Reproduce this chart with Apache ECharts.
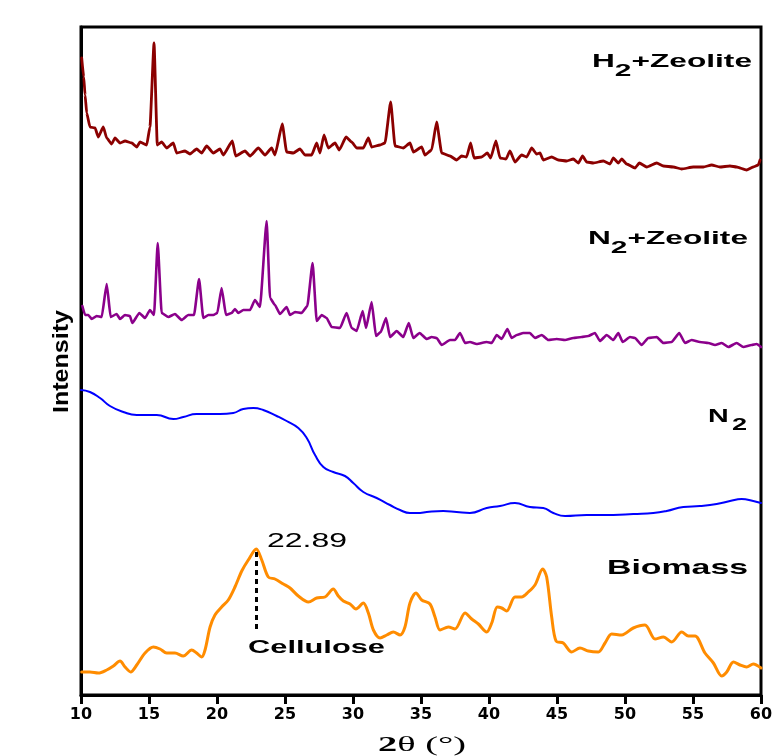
<!DOCTYPE html>
<html>
<head>
<meta charset="utf-8">
<script src="https://cdn.jsdelivr.net/npm/echarts@6/dist/echarts.min.js"></script>
<style>
html,body{margin:0;padding:0;background:#fff;}
#chart{width:777px;height:756px;}
</style>
</head>
<body>
<div id="chart"></div>
<script>
// ---- data (2θ in degrees, intensity in arbitrary units, stacked offsets as in the figure) ----
const xRange = [10, 60];
const xStep = 5;
const yRange = [0, 668];

const h2Zeolite = [
[10.05,637],[10.2,618],[10.3,600],[10.42,582],[10.66,568],[11.03,567],[11.27,558],[11.64,568],[11.89,557],
[12.25,551],[12.5,557],[12.87,552],[13.24,554],[13.73,552],[14.1,548],[14.34,553],[14.83,550],
[15.07,568],[15.37,652],[15.61,550],[15.93,553],[16.3,547],[16.79,552],[17.03,542],[17.65,544],
[18.01,541],[18.5,546],[18.87,542],[19.24,549],[19.73,542],[20.22,546],[20.46,540],[21.13,554],
[21.37,539],[22.06,544],[22.43,539],[23.04,547],[23.53,540],[24.02,547],[24.26,540],[24.8,571],
[25.12,543],[25.61,542],[26.1,546],[26.47,540],[26.96,540],[27.33,552],[27.57,542],[27.87,560],
[28.18,547],[28.68,552],[28.99,545],[29.49,558],[29.9,553],[30.27,547],[30.76,547],[31.13,557],
[31.37,548],[31.99,550],[32.35,552],[32.77,593],[33.09,549],[33.7,547],[34.19,552],[34.44,543],
[35.05,548],[35.29,540],[35.78,545],[36.15,573],[36.52,542],[37.13,539],[37.62,535],[37.99,539],
[38.35,538],[38.65,552],[38.9,537],[39.46,538],[39.88,542],[40.12,537],[40.51,554],[40.81,537],
[41.25,536],[41.54,544],[41.91,533],[42.4,540],[42.77,538],[43.14,547],[43.5,541],[43.75,542],
[43.99,535],[44.61,538],[45.1,535],[45.71,534],[46.2,536],[46.57,532],[46.88,539],[47.18,533],
[47.67,532],[48.41,534],[48.9,531],[49.14,537],[49.51,532],[49.76,536],[50.12,531],[50.74,527],
[51.05,532],[51.6,528],[52.33,532],[52.82,529],[53.55,528],[54.17,526],[55.02,528],[55.76,528],
[56.37,530],[56.98,528],[57.72,529],[58.21,528],[58.94,525],[59.43,528],[59.8,530],[59.93,535]
];

const n2Zeolite = [
[10.1,389],[10.3,380],[10.54,380],[10.79,376],[11.15,379],[11.52,378],[11.89,411],[12.18,378],
[12.62,381],[12.87,376],[13.24,380],[13.6,379],[13.77,372],[14.29,382],[14.71,377],[15.07,385],
[15.37,380],[15.64,452],[15.93,382],[16.42,378],[16.91,381],[17.4,375],[17.89,380],[18.31,380],
[18.68,416],[18.99,377],[19.36,380],[19.73,380],[20.02,382],[20.34,407],[20.66,380],[21.08,382],
[21.32,386],[21.57,382],[21.93,385],[22.43,385],[22.79,395],[23.16,388],[23.65,474],[23.9,397],
[24.26,390],[24.63,381],[25.12,388],[25.37,380],[25.74,383],[26.22,382],[26.64,389],[27.03,432],
[27.33,374],[27.7,380],[28.06,377],[28.43,368],[29.04,367],[29.53,382],[29.9,367],[30.27,364],
[30.71,384],[30.96,367],[31.37,393],[31.69,359],[32.04,363],[32.43,377],[32.72,358],[33.21,364],
[33.7,358],[34.1,372],[34.43,357],[34.9,362],[35.42,356],[35.79,358],[36.15,357],[36.52,350],
[37.13,355],[37.5,355],[37.87,362],[38.24,352],[38.6,353],[39.09,351],[39.83,353],[40.2,352],
[40.56,360],[40.93,356],[41.35,366],[41.67,357],[42.04,360],[42.52,362],[43.01,362],[43.38,357],
[43.88,360],[44.36,355],[44.98,356],[45.59,355],[46.2,357],[46.81,358],[47.3,359],[47.79,362],
[48.16,354],[48.65,360],[49.14,355],[49.51,362],[49.83,353],[50.37,358],[50.74,357],[51.22,350],
[51.71,357],[52.33,358],[52.82,352],[53.43,353],[53.99,362],[54.41,352],[54.9,355],[55.51,353],
[56.13,352],[56.62,350],[57.11,352],[57.6,348],[58.21,352],[58.7,348],[59.31,350],[59.68,351],[60,348]
];

const n2 = [
[10,305],[10.66,303],[11.4,297],[12.13,289],[13.11,283],[14.1,280],[15.57,280],[16.79,276],
[17.52,278],[18.5,281],[20.22,281],[21.2,282],[21.93,286],[22.67,287],[23.4,285],[24.39,279],
[25.12,274],[25.98,267],[26.6,257],[27.21,240],[27.82,228],[28.55,223],[29.41,219],[30.02,212],
[30.76,203],[31.74,197],[32.72,190],[33.46,185],[34.19,182],[34.93,182],[35.42,183],[36.64,184],
[37.62,183],[38.6,182],[39.83,187],[40.81,189],[41.91,192],[43.01,188],[43.99,187],[44.73,182],
[45.59,179],[47.18,180],[49.14,180],[50.61,181],[52.08,182],[53.06,184],[54.29,188],[55.51,189],
[56.74,191],[57.72,194],[58.58,196],[59.43,194],[60,192]
];

const biomass = [
[10.05,23],[10.66,23],[11.27,22],[11.89,25],[12.38,29],[12.87,34],[13.24,28],[13.65,23],
[14.1,30],[14.71,42],[15.32,48],[15.81,46],[16.3,42],[16.91,42],[17.52,39],[18.14,45],
[18.5,42],[18.87,38],[19.12,45],[19.49,68],[19.85,80],[20.34,88],[20.83,95],[21.32,108],
[21.82,124],[22.3,135],[22.89,146],[23.29,135],[23.77,118],[24.26,116],[24.88,111],[25.37,107],
[25.98,99],[26.72,93],[27.33,97],[27.94,98],[28.55,106],[28.92,99],[29.29,94],[29.78,91],
[30.22,86],[30.76,92],[31.13,82],[31.5,65],[31.99,57],[32.48,60],[32.96,63],[33.46,60],
[33.82,68],[34.19,92],[34.63,102],[35.05,95],[35.66,91],[36.03,78],[36.4,65],[37.01,68],
[37.5,66],[38.24,82],[38.73,76],[39.22,71],[39.83,63],[40.2,72],[40.61,88],[40.93,87],
[41.3,84],[41.91,98],[42.4,98],[42.89,103],[43.38,110],[43.95,126],[44.24,118],[44.61,78],
[44.93,54],[45.46,52],[46.08,43],[46.69,47],[47.3,44],[48.04,43],[48.53,52],[49.02,61],
[49.76,60],[50.61,67],[51.47,70],[52.21,56],[52.82,58],[53.43,53],[54.17,63],[54.66,59],
[55.15,59],[55.88,42],[56.5,32],[57.11,19],[57.48,23],[57.97,33],[58.46,30],[58.94,28],
[59.43,31],[60,27]
];

const seriesNames = ['H2+Zeolite', 'N2+Zeolite', 'N2', 'Biomass'];
const cellulosePeak = [22.89, 146];
const dottedEnd = 65;
const peakText = '22.89';
const cellText = 'Cellulose';
const yTitle = 'Intensity';

// ---- chart ----
const chart = echarts.init(document.getElementById('chart'), null, {renderer: 'canvas'});

const lineSeries = (name, data, color, width, smooth, mono) => {
  const s = {
    name, type: 'line', data, showSymbol: false, symbol: 'none',
    smooth,
    lineStyle: {color, width, join: 'round', cap: 'round'}, itemStyle: {color},
    silent: true, animation: false, z: 3
  };
  if (mono) s.smoothMonotone = 'x';
  return s;
};

const sBio = lineSeries(seriesNames[3], biomass, '#ff8c00', 3, 0.3, false);
sBio.markLine = {
  silent: true, symbol: ['none', 'none'], animation: false,
  lineStyle: {color: '#000', width: 3, type: [5, 4]},
  label: {show: false},
  data: [[{coord: [cellulosePeak[0], cellulosePeak[1] - 3]}, {coord: [cellulosePeak[0], dottedEnd]}]]
};

chart.setOption({
  backgroundColor: '#fff',
  animation: false,
  grid: {left: 81, right: 16, top: 27, bottom: 61, show: true, borderColor: '#000', borderWidth: 3, backgroundColor: 'transparent'},
  xAxis: {
    type: 'value', min: xRange[0], max: xRange[1], interval: xStep,
    axisLine: {show: true, lineStyle: {color: '#000', width: 3}},
    axisTick: {show: true, length: 9, lineStyle: {color: '#000', width: 3}},
    axisLabel: {color: '#000', fontFamily: 'DejaVu Sans', fontWeight: 'bold', fontSize: 16, margin: 12},
    splitLine: {show: false}
  },
  yAxis: {
    type: 'value', min: yRange[0], max: yRange[1],
    axisLine: {show: true, lineStyle: {color: '#000', width: 3}},
    axisTick: {show: false}, axisLabel: {show: false}, splitLine: {show: false}
  },
  series: [
    lineSeries(seriesNames[0], h2Zeolite, '#8b0000', 2.8, 0.15, true),
    lineSeries(seriesNames[1], n2Zeolite, '#8b008b', 2.6, 0.15, true),
    lineSeries(seriesNames[2], n2, '#0000ff', 2, 0.5, false),
    sBio
  ]
});

// ---- text labels (stretched horizontally as in the source figure) ----
const mctx = document.createElement('canvas').getContext('2d');
function tw(t, font) { mctx.font = font; return mctx.measureText(t).width; }
function txt(t, font, x, y) {
  return {type: 'text', x, y, style: {text: t, font, fill: '#000', textAlign: 'left', align: 'left', textVerticalAlign: 'middle', verticalAlign: 'middle'}};
}
function label(parts, left, cy, width, rot) {
  let x = 0; const children = [];
  parts.forEach(p => {
    children.push(txt(p.t, p.f, x, p.dy || 0));
    x += tw(p.t, p.f) + (p.gap || 0);
  });
  const g = {type: 'group', x: left, y: cy, scaleX: width / x, children, silent: true, z: 10};
  if (rot) g.rotation = rot;
  return g;
}
const B18 = 'bold 18px "Liberation Sans"';
const B17 = 'bold 17px "Liberation Sans"';
const sub = (n) => [{t: n[0], f: B18}, {t: '2', f: B17, dy: 9}];

chart.setOption({
  graphic: [
    label([...sub('H'), {t: '+Zeolite', f: B18}], 592, 62, 160),
    label([...sub('N'), {t: '+Zeolite', f: B18}], 588, 239, 160),
    label([{t: 'N', f: B18, gap: 2}, {t: '2', f: B17, dy: 8}], 708, 417.5, 39),
    label([{t: 'Biomass', f: 'bold 21px "Liberation Sans"'}], 607, 568.5, 141),
    label([{t: cellText, f: 'bold 19px "Liberation Sans"'}], 248, 648, 137),
    label([{t: peakText, f: '20px "Liberation Sans"'}], 267, 541.5, 80),
    label([{t: '2', f: 'bold 22px "Liberation Serif"'}, {t: 'θ (°)', f: '22px "Liberation Serif"'}], 378, 745, 88),
    label([{t: yTitle, f: 'bold 22px "Liberation Sans"'}], 62, 413, 103, Math.PI / 2)
  ]
});
</script>
</body>
</html>
